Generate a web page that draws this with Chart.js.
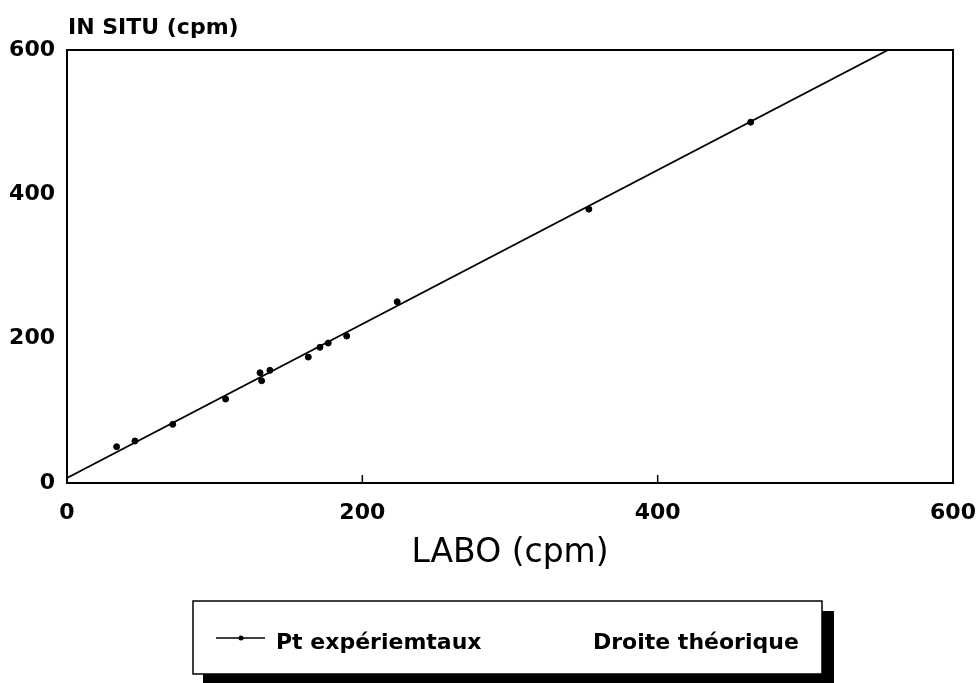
<!DOCTYPE html>
<html>
<head>
<meta charset="utf-8">
<script src="https://cdn.jsdelivr.net/npm/chart.js@4.4.0/dist/chart.umd.min.js"></script>
<style>
  body { margin: 0; background: #fff; }
  canvas { display: block; }
</style>
</head>
<body>
<canvas id="myChart" width="976" height="683"></canvas>
<script>
// valeurs
var labo   = [33.6, 46.0, 71.6, 107.4, 130.7, 131.8, 137.4, 163.4, 171.3, 176.9, 189.4, 223.6, 353.4, 463.0];
var inSitu = [50.3, 58.2, 81.3, 116.3, 152.8, 141.7, 156.1, 174.5, 188.0, 193.9, 203.6, 251.1, 379.5, 500.0];

// droite théorique (deux extrémités)
var droiteX = [0, 556];
var droiteY = [7, 600];

var tickValues = [0, 200, 400, 600];
var labelPoints = 'Pt expériemtaux';
var labelDroite = 'Droite théorique';

var fontFamily = '"DejaVu Sans", sans-serif';

function toPoints(xs, ys) {
  var pts = [];
  for (var i = 0; i < xs.length; i++) {
    pts.push({ x: xs[i], y: ys[i] });
  }
  return pts;
}

// cadre, titre vertical et légende dessinés à la main
var cadrePlugin = {
  id: 'cadre',
  afterDraw: function(chart) {
    var ctx = chart.ctx;
    var a = chart.chartArea;
    ctx.save();
    ctx.strokeStyle = '#000';
    ctx.lineWidth = 2;
    ctx.beginPath();
    ctx.moveTo(a.left, a.top);
    ctx.lineTo(a.right, a.top);
    ctx.lineTo(a.right, a.bottom);
    ctx.stroke();

    // petites graduations vers l'intérieur
    ctx.lineWidth = 1.5;
    var xs = chart.scales.x;
    [200, 400].forEach(function(v) {
      var px = xs.getPixelForValue(v);
      ctx.beginPath();
      ctx.moveTo(px, a.bottom);
      ctx.lineTo(px, a.bottom - 8);
      ctx.stroke();
    });

    ctx.fillStyle = '#000';
    ctx.textBaseline = 'alphabetic';
    ctx.font = 'bold 22px ' + fontFamily;
    ctx.fillText('IN SITU (cpm)', 68, 34);

    // légende
    ctx.fillStyle = '#000';
    ctx.fillRect(203, 611, 631, 80);
    ctx.fillStyle = '#fff';
    ctx.fillRect(193, 601, 629, 73);
    ctx.strokeStyle = '#000';
    ctx.lineWidth = 1.5;
    ctx.strokeRect(193, 601, 629, 73);

    ctx.lineWidth = 1.5;
    ctx.beginPath();
    ctx.moveTo(216, 638);
    ctx.lineTo(265, 638);
    ctx.stroke();
    ctx.beginPath();
    ctx.arc(241, 638, 2.5, 0, Math.PI * 2);
    ctx.fillStyle = '#000';
    ctx.fill();

    ctx.font = 'bold 22px ' + fontFamily;
    ctx.fillText(chart.data.datasets[0].label, 276, 649);
    ctx.fillText(chart.data.datasets[1].label, 593, 649);
    ctx.restore();
  }
};

var myChart = document.getElementById('myChart').getContext('2d');
var chart = new Chart(myChart, {
  type: 'scatter',
  data: {
    datasets: [{
      label: labelPoints,
      data: toPoints(labo, inSitu),
      backgroundColor: '#000',
      borderColor: '#000',
      pointRadius: 3,
      showLine: false
    }, {
      label: labelDroite,
      data: toPoints(droiteX, droiteY),
      showLine: true,
      borderColor: '#000',
      borderWidth: 1.8,
      pointRadius: 0,
      fill: false
    }]
  },
  options: {
    responsive: false,
    animation: false,
    layout: { padding: { top: 50, right: 23, left: 0, bottom: 0 } },
    plugins: {
      legend: { display: false },
      tooltip: { enabled: false }
    },
    scales: {
      x: {
        type: 'linear',
        min: 0,
        max: 600,
        afterBuildTicks: function(s) { s.ticks = tickValues.map(function(v) { return { value: v }; }); },
        afterFit: function(s) { s.height = 200; s.paddingLeft = 0; s.paddingRight = 0; },
        grid: { display: false, drawTicks: false },
        border: { display: true, color: '#000', width: 2 },
        ticks: {
          padding: 17,
          color: '#000',
          maxRotation: 0,
          font: { family: fontFamily, size: 22, weight: 'bold' }
        },
        title: {
          display: true,
          text: 'LABO (cpm)',
          color: '#000',
          padding: { top: 0, bottom: 110 },
          font: { family: fontFamily, size: 33, weight: 'normal' }
        }
      },
      y: {
        type: 'linear',
        min: 0,
        max: 600,
        afterBuildTicks: function(s) { s.ticks = tickValues.map(function(v) { return { value: v }; }); },
        afterFit: function(s) { s.width = 67; s.paddingTop = 0; s.paddingBottom = 0; },
        grid: { display: false, drawTicks: false },
        border: { display: true, color: '#000', width: 2 },
        ticks: {
          padding: 12,
          color: '#000',
          font: { family: fontFamily, size: 22, weight: 'bold' }
        }
      }
    }
  },
  plugins: [cadrePlugin]
});
</script>
</body>
</html>
